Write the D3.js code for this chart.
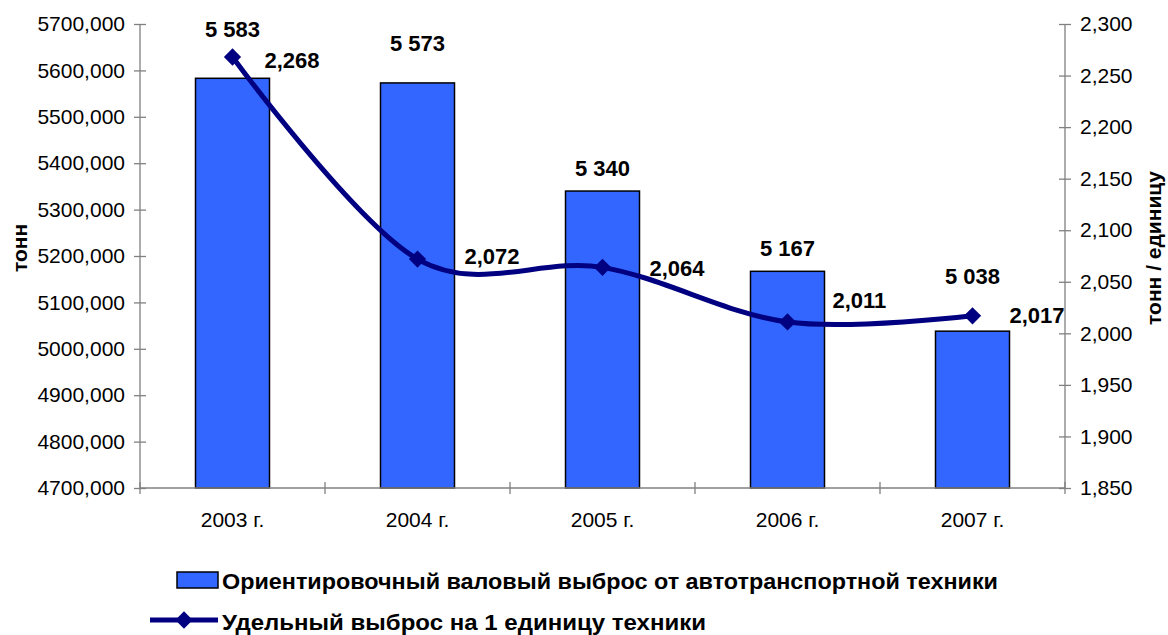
<!DOCTYPE html>
<html>
<head>
<meta charset="utf-8">
<script src="https://cdn.jsdelivr.net/npm/d3@7"></script>
<style>
  body { margin: 0; background: #fff; }
  svg { font-family: Arial, "Liberation Sans", sans-serif; }
</style>
</head>
<body>
<div id="chart"></div>
<script>
var years = ['2003 г.', '2004 г.', '2005 г.', '2006 г.', '2007 г.'];
var grossEmission = [5583, 5573, 5340, 5167, 5038];
var specificEmission = [2.268, 2.072, 2.064, 2.011, 2.017];
var leftTicks = [4700, 4800, 4900, 5000, 5100, 5200, 5300, 5400, 5500, 5600, 5700];
var rightTicks = [1.85, 1.9, 1.95, 2.0, 2.05, 2.1, 2.15, 2.2, 2.25, 2.3];
var seriesNames = ['Ориентировочный валовый выброс от автотранспортной техники',
                   'Удельный выброс на 1 единицу техники'];

var width = 1168, height = 635;
var plot = {left: 140, right: 1065, top: 24, bottom: 488};

// label nudges (px above bar top / offset from point), tuned to the picture
var barLabelDy = [-49, -40, -23, -23, -55];
var lineLabelDy = [3, -3, 1, -22, -1];
var lineLabelDx = [32, 47, 47, 45, 37];

var ru = d3.formatLocale({decimal: ',', thousands: ' ', grouping: [3], currency: ['', '']});
var fmtThousands = ru.format(',d');
var fmtRight = ru.format('.3f');

var svg = d3.select('#chart').append('svg')
    .attr('width', width).attr('height', height);

var x = d3.scaleBand().domain(years).range([plot.left, plot.right]).padding(0);
var yLeft = d3.scaleLinear().domain([4700, 5700]).range([plot.bottom, plot.top]);
var yRight = d3.scaleLinear().domain([1.85, 2.3]).range([plot.bottom, plot.top]);
var barW = x.bandwidth() * 0.4;
var cx = function (i) { return x(years[i]) + x.bandwidth() / 2; };

// bars
svg.append('g').selectAll('rect').data(grossEmission).join('rect')
    .attr('x', function (d, i) { return cx(i) - barW / 2; })
    .attr('y', function (d) { return yLeft(d); })
    .attr('width', barW)
    .attr('height', function (d) { return plot.bottom - yLeft(d); })
    .attr('fill', '#3366FF')
    .attr('stroke', '#000')
    .attr('stroke-width', 1.5);

// axes
var axisColor = '#808080';
var gl = svg.append('g').attr('transform', 'translate(' + plot.left + ',0)')
    .call(d3.axisLeft(yLeft).tickValues(leftTicks).tickSize(6).tickPadding(9)
        .tickFormat(function (d) { return d + ',000'; }));
var gr = svg.append('g').attr('transform', 'translate(' + plot.right + ',0)')
    .call(d3.axisRight(yRight).tickValues(rightTicks).tickSize(6).tickPadding(9)
        .tickFormat(fmtRight));
var gb = svg.append('g').attr('transform', 'translate(0,' + plot.bottom + ')')
    .call(d3.axisBottom(x).tickSize(0).tickPadding(24));

[gl, gr, gb].forEach(function (g) {
    g.select('.domain').attr('stroke', axisColor).attr('stroke-width', 1.3);
    g.selectAll('.tick line').attr('stroke', axisColor).attr('stroke-width', 1.3);
    g.selectAll('text').attr('fill', '#000').style('font-size', '21px')
        .style('font-family', 'Arial, "Liberation Sans", sans-serif');
});
gl.select('.domain').attr('d', 'M0,' + plot.top + 'V' + plot.bottom);
gr.select('.domain').attr('d', 'M0,' + plot.top + 'V' + plot.bottom);
gl.selectAll('.tick line').attr('x1', 6);
gr.selectAll('.tick line').attr('x1', -6);
gb.select('.domain').attr('d', 'M' + plot.left + ',0H' + plot.right);

// category boundary ticks on x axis
var bounds = years.map(function (d) { return x(d); }).concat([plot.right]);
svg.append('g').selectAll('line').data(bounds).join('line')
    .attr('x1', function (d) { return d; }).attr('x2', function (d) { return d; })
    .attr('y1', plot.bottom - 6).attr('y2', plot.bottom + 6)
    .attr('stroke', axisColor).attr('stroke-width', 1.3);

// axis titles
svg.append('text')
    .attr('transform', 'translate(27,248) rotate(-90)')
    .attr('text-anchor', 'middle')
    .style('font-size', '21px').style('font-weight', 'bold')
    .text('тонн');
svg.append('text')
    .attr('transform', 'translate(1161,248) rotate(-90)')
    .attr('text-anchor', 'middle')
    .style('font-size', '21px').style('font-weight', 'bold')
    .text('тонн / единицу');

// line
var line = d3.line()
    .x(function (d, i) { return cx(i); })
    .y(function (d) { return yRight(d); })
    .curve(d3.curveCardinal.tension(0));
svg.append('path').datum(specificEmission)
    .attr('d', line)
    .attr('fill', 'none')
    .attr('stroke', '#000080')
    .attr('stroke-width', 5);

var diamond = d3.symbol().type(d3.symbolDiamond2).size(190);
svg.append('g').selectAll('path').data(specificEmission).join('path')
    .attr('transform', function (d, i) { return 'translate(' + cx(i) + ',' + yRight(d) + ')'; })
    .attr('d', diamond)
    .attr('fill', '#000080');

// data labels
svg.append('g').selectAll('text').data(grossEmission).join('text')
    .attr('x', function (d, i) { return cx(i); })
    .attr('y', function (d, i) { return yLeft(d) + barLabelDy[i]; })
    .attr('dy', '0.35em')
    .attr('text-anchor', 'middle')
    .style('font-size', '22px').style('font-weight', 'bold')
    .text(function (d) { return fmtThousands(d); });

svg.append('g').selectAll('text').data(specificEmission).join('text')
    .attr('x', function (d, i) { return cx(i) + lineLabelDx[i]; })
    .attr('y', function (d, i) { return yRight(d) + lineLabelDy[i]; })
    .attr('dy', '0.35em')
    .style('font-size', '22px').style('font-weight', 'bold')
    .text(function (d) { return fmtRight(d); });

// legend
var lg = svg.append('g');
lg.append('rect')
    .attr('x', 177).attr('y', 572).attr('width', 41).attr('height', 16)
    .attr('fill', '#3366FF').attr('stroke', '#000').attr('stroke-width', 1.5);
lg.append('text').attr('x', 222).attr('y', 581).attr('dy', '0.35em')
    .attr('textLength', 776).attr('lengthAdjust', 'spacingAndGlyphs')
    .style('font-size', '22px').style('font-weight', 'bold')
    .text(seriesNames[0]);
lg.append('line')
    .attr('x1', 150).attr('x2', 218).attr('y1', 620).attr('y2', 620)
    .attr('stroke', '#000080').attr('stroke-width', 5);
lg.append('path')
    .attr('transform', 'translate(184,620)')
    .attr('d', diamond)
    .attr('fill', '#000080');
lg.append('text').attr('x', 222).attr('y', 622).attr('dy', '0.35em')
    .attr('textLength', 484).attr('lengthAdjust', 'spacingAndGlyphs')
    .style('font-size', '22px').style('font-weight', 'bold')
    .text(seriesNames[1]);
</script>
</body>
</html>
